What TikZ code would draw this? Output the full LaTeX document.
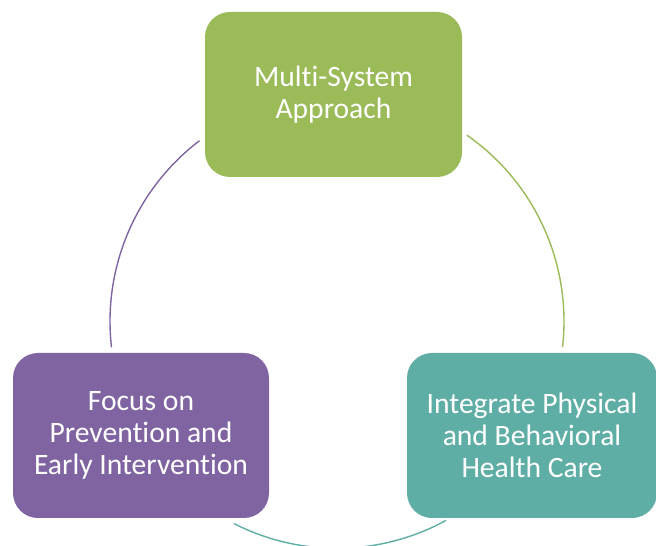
\documentclass[tikz,border=0pt]{standalone}
\usepackage{fontspec}
\setmainfont{Carlito}[Ligatures=NoCommon]
\usetikzlibrary{calc}
\definecolor{boxgreen}{RGB}{155,187,89}
\definecolor{boxpurple}{RGB}{128,100,162}
\definecolor{boxteal}{RGB}{95,174,166}
\tikzset{
	stagebox/.style={draw=none, fill=#1, rounded corners=25pt, minimum height=165pt,
		inner sep=0pt, align=center, text=white, font=\fontsize{29.6}{32}\selectfont},
	ringline/.style={line width=1.4pt, draw=#1}
}
\def\ringarc[#1](#2)(#3:#4:#5){\draw[#1] ($(#2)+({#5*cos(#3)},{#5*sin(#3)})$) arc (#3:#4:#5);}

\begin{document}
\begin{tikzpicture}[x=1pt, y=1pt]
			%%%%% START %%%%%
			\useasboundingbox (0, 0) rectangle (656, 546);
			
			\coordinate (ring) at (337, 224.7);
			
			\ringarc[ringline=boxpurple](ring)(127.3:186.6:227pt);
			\ringarc[ringline=boxgreen](ring)(55.1:-6.5:227pt);
			\ringarc[ringline=boxteal](ring)(243:298.7:227pt);
			
			\node[stagebox=boxgreen, minimum width=257pt] (approach) at (333.5, 451.5) {Multi-System\\Approach};
			\node[stagebox=boxpurple, minimum width=256pt] (prevention) at (141, 110.5) {Focus on\\Prevention and\\Early Intervention};
			\node[stagebox=boxteal, minimum width=250pt] (integrate) at (532, 110.5) {Integrate Physical\\and Behavioral\\Health Care};
			
			%%%%% END %%%%%
		\end{tikzpicture}
\end{document}
